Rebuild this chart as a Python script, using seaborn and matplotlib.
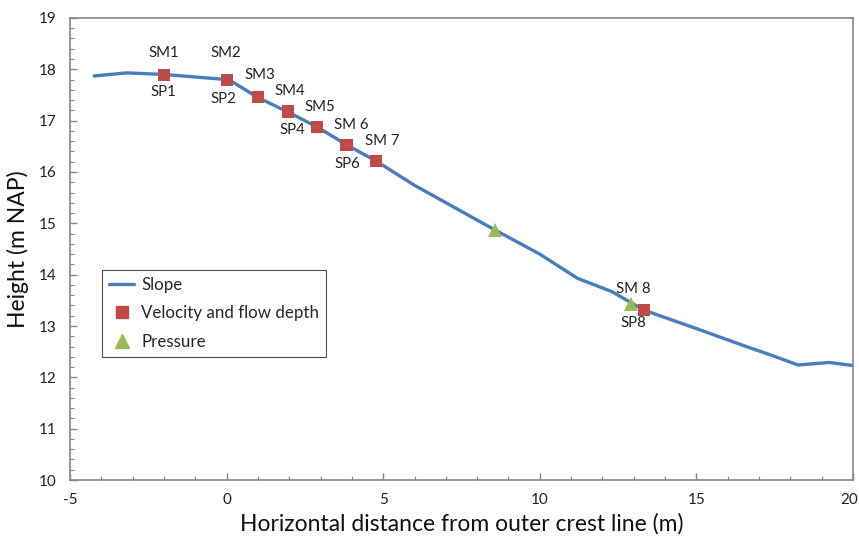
import matplotlib
matplotlib.use("Agg")
import matplotlib.pyplot as plt
import matplotlib.transforms as mtransforms
import seaborn as sns
import pandas as pd
from matplotlib.ticker import MultipleLocator
from matplotlib.lines import Line2D

# Slope profile
slope_x = [-4.23, -3.2, -2.0, 0.0, 0.12, 1.0, 1.95, 2.88, 3.83, 4.78, 6.0, 7.3, 8.57, 10.0, 11.2, 12.3, 13.32, 15.0, 16.5, 17.4, 18.25, 19.24, 20.0]
slope_y = [17.87, 17.93, 17.90, 17.80, 17.78, 17.45, 17.17, 16.88, 16.53, 16.21, 15.74, 15.30, 14.87, 14.40, 13.93, 13.67, 13.31, 12.95, 12.62, 12.43, 12.24, 12.29, 12.23]

# Velocity and flow depth sensors
vel_x = [-1.99, 0.01, 1.0, 1.95, 2.88, 3.83, 4.78, 13.32]
vel_y = [17.89, 17.79, 17.46, 17.18, 16.88, 16.53, 16.21, 13.31]

# Pressure sensors
pres_x = [8.57, 12.91]
pres_y = [14.87, 13.43]

# Labels
sm_labels = ["SM1", "SM2", "SM3", "SM4", "SM5", "SM 6", "SM 7", "SM 8"]
sm_pos = [(-2.0, 18.31), (-0.03, 18.31), (1.07, 17.88), (2.03, 17.58), (2.98, 17.27), (3.97, 16.92), (4.97, 16.61), (13.00, 13.72)]
sp_labels = ["SP1", "SP2", "SP4", "SP6", "SP8"]
sp_pos = [(-2.03, 17.56), (-0.1, 17.43), (2.1, 16.82), (3.85, 16.16), (13.0, 13.06)]

BLUE = "#4A7EBB"
RED = "#BE4B48"
GREEN = "#98B954"
GRAY = "#868686"

sns.set_theme(style="white")
plt.rcParams["font.family"] = ["Lato", "DejaVu Sans"]
plt.rcParams["axes.unicode_minus"] = False

fig = plt.figure(figsize=(8.59, 5.44), dpi=100)
ax = fig.add_axes([0.0815, 0.1176, 0.9115, 0.8494])

sns.lineplot(x=slope_x, y=slope_y, ax=ax, color=BLUE, linewidth=2.4, sort=False, estimator=None, zorder=2)
sns.scatterplot(x=vel_x, y=vel_y, ax=ax, marker="s", s=78, color=RED, edgecolor="none", zorder=3)
sns.scatterplot(x=pres_x, y=pres_y, ax=ax, marker="^", s=100, color=GREEN, edgecolor="none", zorder=3)

for lab, (x, y) in zip(sm_labels, sm_pos):
    ax.text(x, y, lab, ha="center", va="center", fontsize=10.8, color="#222222")
for lab, (x, y) in zip(sp_labels, sp_pos):
    ax.text(x, y, lab, ha="center", va="center", fontsize=10.8, color="#222222")

ax.set_xlim(-5, 20)
ax.set_ylim(10, 19)
ax.xaxis.set_major_locator(MultipleLocator(5))
ax.xaxis.set_minor_locator(MultipleLocator(1))
ax.yaxis.set_major_locator(MultipleLocator(1))
ax.yaxis.set_minor_locator(MultipleLocator(0.2))
ax.tick_params(which="both", direction="in", colors=GRAY, labelcolor="#222222", labelsize=11)
ax.tick_params(which="major", length=5, width=1)
ax.tick_params(which="minor", length=3, width=0.8)
ax.tick_params(axis="y", which="both", pad=10, left=True)
ax.tick_params(axis="x", which="both", pad=9, bottom=True)
for s in ax.spines.values():
    s.set_color(GRAY)
    s.set_linewidth(1.2)

# nudge the last x tick label ("20") so it stays inside the figure
fig.canvas.draw()
last = ax.xaxis.get_major_ticks()
for t in last:
    if abs(t.get_loc() - 20) < 1e-9:
        t.label1.set_transform(t.label1.get_transform() +
                               mtransforms.ScaledTranslation(-4 / 100, 0, fig.dpi_scale_trans))

ax.set_xlabel("Horizontal distance from outer crest line (m)", fontsize=16.5, color="#111111", labelpad=5)
ax.set_ylabel("Height (m NAP)", fontsize=16.5, color="#111111", labelpad=7)

handles = [
    Line2D([], [], color=BLUE, linewidth=2.4),
    Line2D([], [], color=RED, marker="s", linestyle="none", markersize=8.5),
    Line2D([], [], color=GREEN, marker="^", linestyle="none", markersize=9.5),
]
leg = ax.legend(handles, ["Slope", "Velocity and flow depth", "Pressure"],
                loc="upper left", bbox_to_anchor=(0.041, 0.455), fontsize=12.2,
                frameon=True, fancybox=False, edgecolor="#222222", handlelength=1.5,
                handletextpad=0.4, borderpad=0.4, labelspacing=0.75, borderaxespad=0)
leg.get_frame().set_linewidth(0.8)

fig.savefig("out.png", dpi=100)
